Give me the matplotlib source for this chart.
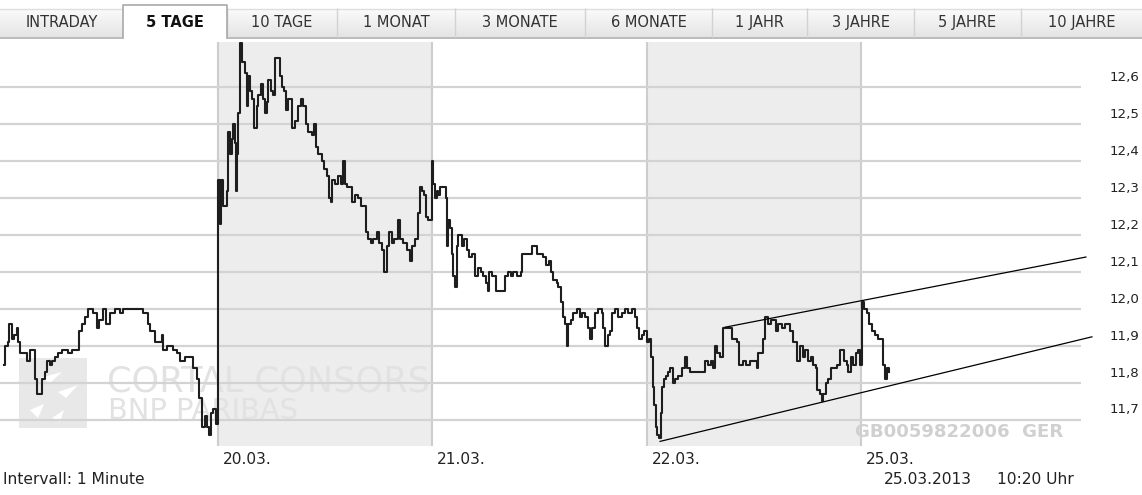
import numpy as np
import matplotlib
matplotlib.use("Agg")
import matplotlib.pyplot as plt
from matplotlib.patches import Rectangle, Polygon
from matplotlib.colors import LinearSegmentedColormap
from matplotlib.transforms import Affine2D, blended_transform_factory, offset_copy

# ---------------- data ----------------
tabs = ["INTRADAY", "5 TAGE", "10 TAGE", "1 MONAT", "3 MONATE",
        "6 MONATE", "1 JAHR", "3 JAHRE", "5 JAHRE", "10 JAHRE"]
selected_tab = "5 TAGE"

day_index = [0, 1, 2, 3, 4]
day_labels = ["19.03.", "20.03.", "21.03.", "22.03.", "25.03."]
shaded_days = [1, 3]

y_ticks = [11.7, 11.8, 11.9, 12.0, 12.1, 12.2, 12.3, 12.4, 12.5, 12.6]
y_tick_labels = ["11,7", "11,8", "11,9", "12,0", "12,1", "12,2", "12,3", "12,4", "12,5", "12,6"]

# position within the trading day in percent, and price (EUR)
d0_pct = [0, 0.6, 2.0, 2.6, 3.9, 4.8, 6.1, 6.7, 7.6, 9.9, 10.9, 12.3, 13.7, 14.6, 15.5,
          16.9, 17.9, 19.3, 20.2, 21.6, 22.5, 23.9, 25.3, 27.2, 28.6, 30.0, 31.9, 34.2,
          35.1, 36.5, 37.9, 39.3, 41.7, 43.5, 44.5, 46.3, 47.7, 49.6, 51.9, 54.3, 55.7,
          63.6, 65.0, 67.3, 68.3, 69.7, 70.6, 73.9, 74.3, 76.2, 79.0, 80.9, 82.3, 84.6,
          86.9, 88.3, 90.2, 91.1, 92.5, 93.9, 94.9, 95.8, 96.7, 97.7, 99.1]
d0_price = [11.85, 11.90, 11.91, 11.96, 11.92, 11.93, 11.95, 11.91, 11.88, 11.88, 11.86,
            11.89, 11.89, 11.81, 11.77, 11.77, 11.81, 11.83, 11.86, 11.85, 11.86, 11.87,
            11.88, 11.89, 11.89, 11.88, 11.89, 11.89, 11.94, 11.96, 11.98, 12.00, 11.99,
            11.95, 11.97, 12.00, 11.96, 11.99, 12.00, 11.99, 12.00, 12.00, 11.99, 11.96,
            11.94, 11.94, 11.91, 11.93, 11.89, 11.90, 11.89, 11.88, 11.86, 11.87, 11.87,
            11.84, 11.81, 11.76, 11.68, 11.71, 11.68, 11.66, 11.72, 11.73, 11.69]

d1_pct = [0.1, 0.9, 1.4, 2.3, 3.3, 4.2, 4.7, 5.6, 6.5, 7.0, 7.9, 8.4, 8.9, 9.3, 10.3,
          11.2, 11.7, 12.6, 13.5, 14.0, 14.9, 15.9, 16.8, 18.2, 18.7, 20.1, 21.0, 21.9,
          22.9, 23.3, 24.7, 25.7, 26.6, 28.5, 28.9, 29.9, 30.8, 31.7, 32.7, 34.1, 34.5,
          35.9, 37.3, 38.7, 39.7, 41.1, 42.0, 43.9, 44.8, 45.7, 46.7, 48.5, 49.5, 50.9,
          51.8, 52.7, 53.2, 54.6, 56.0, 57.4, 58.3, 59.3, 60.2, 61.6, 62.5, 63.9, 65.3,
          66.7, 67.7, 69.1, 70.0, 71.4, 72.3, 74.2, 75.1, 76.5, 77.5, 78.9, 79.8, 81.2,
          82.1, 84.0, 84.9, 86.3, 88.2, 89.6, 90.5, 91.9, 93.3, 94.3, 95.2, 96.1, 97.1, 98.0]
d1_price = [12.35, 12.23, 12.35, 12.28, 12.28, 12.32, 12.48, 12.42, 12.46, 12.50,
            12.45, 12.32, 12.42, 12.53, 12.72, 12.67, 12.67, 12.64, 12.55, 12.63,
            12.59, 12.57, 12.49, 12.55, 12.58, 12.61, 12.57, 12.53, 12.56, 12.62,
            12.59, 12.58, 12.68, 12.68, 12.63, 12.60, 12.59, 12.54, 12.57, 12.57,
            12.49, 12.51, 12.55, 12.57, 12.55, 12.50, 12.48, 12.47, 12.50, 12.44,
            12.42, 12.40, 12.38, 12.36, 12.30, 12.29, 12.35, 12.34, 12.36, 12.34,
            12.40, 12.34, 12.33, 12.33, 12.29, 12.31, 12.30, 12.28, 12.28, 12.21,
            12.19, 12.18, 12.19, 12.21, 12.18, 12.16, 12.10, 12.17, 12.21, 12.18,
            12.19, 12.24, 12.19, 12.18, 12.16, 12.13, 12.17, 12.19, 12.26, 12.33,
            12.32, 12.31, 12.25, 12.24]

d2_pct = [0.0, 0.5, 1.3, 2.2, 2.7, 3.6, 5.0, 6.4, 6.9, 7.3, 8.3, 9.2, 9.7, 10.6, 11.5,
          12.0, 13.9, 14.8, 16.2, 17.1, 18.5, 19.4, 19.9, 21.3, 22.7, 23.7, 25.1, 26.0,
          26.5, 27.9, 29.3, 29.7, 33.9, 35.3, 36.7, 37.7, 39.5, 41.4, 41.9, 44.2, 45.6,
          46.5, 47.9, 48.9, 50.3, 51.7, 53.1, 54.5, 55.4, 56.3, 58.2, 58.7, 60.1, 61.0,
          61.9, 62.9, 63.3, 64.7, 65.6, 67.5, 68.9, 69.8, 71.3, 72.7, 73.6, 74.5, 75.9,
          77.3, 79.2, 79.7, 80.6, 82.0, 82.9, 83.9, 85.3, 86.7, 88.5, 89.9, 91.3, 93.2,
          94.6, 95.5, 96.5, 97.9, 98.8]
d2_price = [12.40, 12.34, 12.30, 12.32, 12.31, 12.33, 12.33, 12.30, 12.17, 12.24,
            12.22, 12.15, 12.09, 12.06, 12.17, 12.20, 12.17, 12.19, 12.16, 12.14,
            12.15, 12.15, 12.09, 12.11, 12.10, 12.09, 12.07, 12.05, 12.10, 12.09,
            12.09, 12.05, 12.09, 12.10, 12.09, 12.10, 12.09, 12.10, 12.15, 12.15,
            12.15, 12.17, 12.17, 12.15, 12.15, 12.14, 12.12, 12.13, 12.10, 12.08,
            12.07, 12.06, 12.02, 11.98, 11.96, 11.90, 11.96, 11.97, 11.99, 12.00,
            11.98, 11.99, 11.98, 11.95, 11.92, 11.95, 11.99, 12.00, 11.99, 11.95,
            11.90, 11.93, 11.94, 11.99, 12.00, 11.98, 11.99, 12.00, 11.99, 12.00,
            11.98, 11.95, 11.92, 11.93, 11.94]

d3_pct = [0.2, 1.1, 2.1, 3.0, 3.5, 4.4, 4.9, 5.8, 6.7, 7.2, 8.1, 9.1, 10.0, 10.9, 12.3,
          13.3, 14.7, 16.5, 17.9, 18.9, 20.3, 27.2, 28.7, 30.1, 31.0, 31.9, 32.9, 34.3,
          35.7, 39.8, 42.2, 43.1, 45.0, 46.4, 48.3, 51.5, 52.0, 54.3, 55.3, 56.7, 58.1,
          60.4, 61.3, 63.2, 64.6, 66.9, 68.3, 70.2, 71.6, 73.0, 73.9, 75.3, 76.7, 77.6,
          79.0, 79.5, 80.9, 81.8, 82.3, 83.7, 84.7, 86.1, 88.9, 90.2, 92.1, 93.5, 94.0,
          95.4, 96.3, 97.7, 98.7, 99.6]
d3_price = [11.91, 11.92, 11.87, 11.79, 11.74, 11.68, 11.66, 11.65, 11.72, 11.79,
            11.81, 11.82, 11.83, 11.84, 11.80, 11.81, 11.82, 11.84, 11.87, 11.84,
            11.83, 11.86, 11.85, 11.86, 11.84, 11.90, 11.88, 11.87, 11.95, 11.92,
            11.91, 11.85, 11.86, 11.85, 11.86, 11.84, 11.88, 11.92, 11.98, 11.96,
            11.97, 11.94, 11.96, 11.95, 11.96, 11.94, 11.91, 11.86, 11.90, 11.87,
            11.89, 11.86, 11.87, 11.85, 11.84, 11.78, 11.77, 11.75, 11.77, 11.80,
            11.81, 11.84, 11.85, 11.89, 11.86, 11.85, 11.83, 11.87, 11.85, 11.88,
            11.89, 11.85]

d4_pct = [0.5, 1.4, 2.8, 3.8, 5.2, 6.6, 8.0, 10.3, 11.2, 12.0, 13.0]
d4_price = [12.02, 12.00, 11.99, 11.96, 11.94, 11.93, 11.92, 11.85, 11.81, 11.84, 11.83]

# hand-drawn trend channel (day position, price)
trend_upper_t = [3.366, 5.050]
trend_upper_p = [11.951, 12.141]
trend_lower_t = [3.063, 5.078]
trend_lower_p = [11.642, 11.925]

isin_text = "GB0059822006  GER"
interval_text = "Intervall: 1 Minute"
stamp_date = "25.03.2013"
stamp_time = "10:20 Uhr"

# ---------------- figure ----------------
W, H = 1142, 495
fig = plt.figure(figsize=(W / 100, H / 100), dpi=100)
fig.patch.set_facecolor("white")
PX = Affine2D().scale(1 / W, -1 / H).translate(0, 1) + fig.transFigure
FONT = "DejaVu Sans"

# overlay for tab bar / footer
ov = fig.add_axes([0, 0, 1, 1])
ov.set_axis_off()
ov.patch.set_visible(False)

tab_edges = [0, 123, 227, 337, 455, 585, 712, 807, 914, 1021, 1142]
grad = np.linspace(0, 1, 64).reshape(-1, 1)
tab_cmap = LinearSegmentedColormap.from_list("tab", ["#fbfbfb", "#e4e4e4"])
for i, name in enumerate(tabs):
    x0, x1 = tab_edges[i], tab_edges[i + 1]
    cx = (x0 + x1) / 2
    if name == selected_tab:
        ov.add_patch(Rectangle((x0, 5), x1 - x0, 34, facecolor="white",
                               edgecolor="none", zorder=3))
        ov.plot([x0, x0, x1, x1], [38, 5, 5, 38], color="#a9a9a9", lw=1.2, zorder=4)
        ov.text(cx, 22.5, name, ha="center", va="center", fontsize=10.5,
                fontweight="bold", color="#111111", family=FONT, zorder=5)
    else:
        ov.imshow(grad, extent=(x0, x1, 37, 9), cmap=tab_cmap, aspect="auto",
                  interpolation="bilinear", zorder=1)
        ov.plot([x0, x1], [9, 9], color="#dedede", lw=1.0, zorder=2)
        ov.plot([x0, x1], [37.5, 37.5], color="#b5b5b5", lw=1.3, zorder=2)
        if x0 > 0:
            ov.plot([x0, x0], [9, 37], color="#d2d2d2", lw=1.0, zorder=2)
        ov.text(cx, 22.5, name, ha="center", va="center", fontsize=10.5,
                color="#333333", family=FONT, zorder=5)

ov.text(3, 480, interval_text, ha="left", va="center", fontsize=11.2,
        color="#222222", family=FONT)
ov.text(884, 480, stamp_date, ha="left", va="center", fontsize=11.2,
        color="#222222", family=FONT)
ov.text(997, 480, stamp_time, ha="left", va="center", fontsize=11.2,
        color="#222222", family=FONT)
ov.set_xlim(0, W)
ov.set_ylim(H, 0)

# main chart axes
ax = fig.add_axes([0, (H - 446) / H, 1095 / W, (446 - 42) / H])
ax.set_xlim(-0.0173, 5.0924)
ax.set_ylim(11.6295, 12.723)
for s in ax.spines.values():
    s.set_visible(False)
ax.set_xticks([])
ax.set_yticks([])
ax.patch.set_facecolor("white")

for d in shaded_days:
    ax.axvspan(d, d + 1, facecolor="#ededed", edgecolor="none", zorder=0)
for d in day_index[1:]:
    ax.axvline(d, color="#cdcdcd", lw=1.5, zorder=0.5)

ax.hlines(y_ticks, -0.02, 5.027, color="#d3d3d3", lw=1.6, zorder=1)

# watermark
ax.add_patch(Rectangle((19, 358), 68, 70, transform=PX, facecolor="#e8e8e8",
                       edgecolor="none", zorder=0.6, clip_on=False))
for pts in ([(40, 378), (62, 372), (50, 383)], [(58, 392), (78, 385), (66, 398)],
            [(30, 410), (44, 404), (38, 418)], [(52, 418), (64, 410), (60, 422)]):
    ax.add_patch(Polygon(pts, closed=True, transform=PX, facecolor="white",
                         edgecolor="none", zorder=0.65, clip_on=False))
ax.text(107, 381, "CORTAL CONSORS", transform=PX, ha="left", va="center",
        fontsize=25.3, color="#e2e2e2", family=FONT, zorder=0.7)
ax.text(108, 411, "BNP PARIBAS", transform=PX, ha="left", va="center",
        fontsize=20.8, color="#e2e2e2", family=FONT, zorder=0.7)
ax.text(855, 432, isin_text, transform=PX, ha="left", va="center",
        fontsize=13.1, fontweight="bold", color="#d0d0d0", family=FONT, zorder=0.7)

# price series
pct_lists = [d0_pct, d1_pct, d2_pct, d3_pct, d4_pct]
price_lists = [d0_price, d1_price, d2_price, d3_price, d4_price]
t = np.concatenate([d + np.asarray(p) / 100.0 for d, p in zip(day_index, pct_lists)])
price = np.concatenate([np.asarray(p) for p in price_lists])
ax.step(t, price, where="post", color="#1e1e1e", lw=1.5, zorder=3)

# trend channel
ax.plot(trend_upper_t, trend_upper_p, color="black", lw=0.9, zorder=4, clip_on=False)
ax.plot(trend_lower_t, trend_lower_p, color="black", lw=0.9, zorder=4, clip_on=False)

# y labels on the right
lab_tr = offset_copy(ax.transData, fig=fig, x=0, y=10, units="dots")
for v, lab in zip(y_ticks, y_tick_labels):
    ax.text(5.162, v, lab, transform=lab_tr, ha="left", va="center", fontsize=9.6,
            color="#222222", family=FONT, clip_on=False)

# day labels
date_tr = offset_copy(blended_transform_factory(ax.transData, PX), fig=fig,
                      x=5, y=0, units="dots")
for d, lab in zip(day_index, day_labels):
    if d == 0:
        continue
    ax.text(d, 459, lab, transform=date_tr, ha="left", va="center", fontsize=11.1,
            color="#222222", family=FONT, clip_on=False)

fig.savefig("out.png", dpi=100, facecolor="white")
